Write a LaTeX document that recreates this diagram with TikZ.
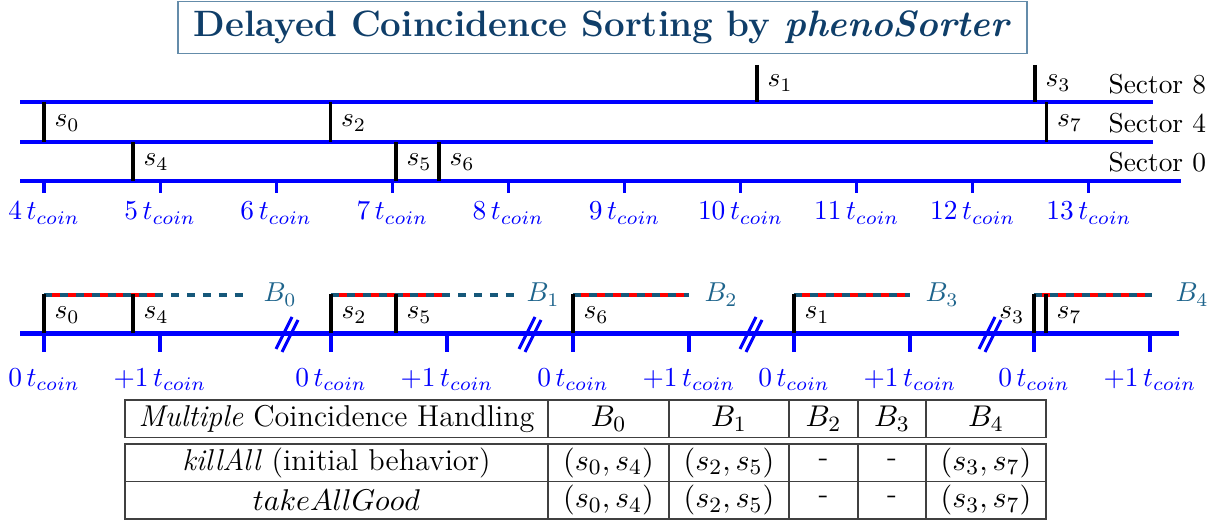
\documentclass[tikz,border=0pt]{standalone}
\begin{document}
\begin{tikzpicture}[x=0.365pt,y=-0.365pt,font=\fontsize{10}{12}\selectfont]
\definecolor{bteal}{RGB}{22,88,122}
\definecolor{blabteal}{RGB}{30,100,140}
\definecolor{titleblue}{RGB}{15,62,105}
\definecolor{titleframe}{RGB}{100,140,170}
\tikzset{
  sectorline/.style={blue,line width=1.1pt},
  axisline/.style={blue,line width=1.8pt},
  tickmark/.style={blue,line width=1.1pt},
  sigline/.style={black,line width=1.1pt},
  ticklab/.style={blue,anchor=base,inner sep=0pt},
  siglab/.style={anchor=base west,inner sep=0pt},
  seclab/.style={anchor=base west,inner sep=0pt},
  winred/.style={red,line width=1.6pt},
  winteal/.style={bteal,line width=1.6pt,dash pattern=on 2.9pt off 2.9pt},
  blab/.style={blabteal,anchor=base west,inner sep=0pt},
  brkline/.style={blue,line width=1.1pt},
  tabline/.style={black!75,line width=0.55pt},
  cell/.style={font=\fontsize{11}{13}\selectfont,inner sep=0pt},
}
\useasboundingbox (0,0) rectangle (1221,522);

% title
\node[draw=titleframe,line width=0.6pt,text=titleblue,minimum width=849*0.365pt,minimum height=52*0.365pt,inner sep=0pt,font=\fontsize{13.4}{16}\selectfont\bfseries] (title) at (602.5,27.5) {Delayed Coincidence Sorting by \textit{phenoSorter}};

% ---------- top timeline ----------
\draw[sectorline] (20,102) -- (1153,102);
\draw[sectorline] (20,142) -- (1153,142);
\draw[axisline] (20,181) -- (1181,181);
\foreach \k in {4,...,13}{
  \pgfmathsetmacro\xx{44+116.1*(\k-4)}
  \draw[tickmark] (\xx,181) -- (\xx,193);
  \node[ticklab] (tt\k) at (\xx,220) {$\k\,t_{coin}$};
}
\node[seclab] (sec8) at (1108,94) {Sector 8};
\node[seclab] (sec4) at (1108,133) {Sector 4};
\node[seclab] (sec0) at (1108,172) {Sector 0};

% signals: sector 8
\foreach \n/\xx in {1/757,3/1035}{
  \draw[sigline] (\xx,65) -- (\xx,102);
  \node[siglab] (ts\n) at (\xx+10,87) {$s_{\n}$};
}
% sector 4
\foreach \n/\xx in {0/44,2/330.5,7/1046.5}{
  \draw[sigline] (\xx,102) -- (\xx,142);
  \node[siglab] (ts\n) at (\xx+10,127) {$s_{\n}$};
}
% sector 0
\foreach \n/\xx in {4/133,5/396,6/439}{
  \draw[sigline] (\xx,142) -- (\xx,181);
  \node[siglab] (ts\n) at (\xx+10,166) {$s_{\n}$};
}

% ---------- bottom timeline ----------
\draw[axisline] (20,333.5) -- (1179,333.5);
\foreach \i/\xx in {a/44,b/331,c/573,d/794,e/1034}{
  \draw[tickmark] (\xx,333.5) -- (\xx,352);
  \draw[tickmark] (\xx+116,333.5) -- (\xx+116,352);
  \node[ticklab] (bz\i) at (\xx,386) {$0\,t_{coin}$};
  \node[ticklab] (bo\i) at (\xx+116,386) {$+1\,t_{coin}$};
}
% breaks
\foreach \c in {287,530,751,990}{
  \draw[brkline] (\c-11,349) -- (\c+5,317);
  \draw[brkline] (\c-5,352) -- (\c+11,320);
}
% coincidence windows
\draw[winred] (44,295) -- (160,295);
\draw[winteal] (44,295) -- (245,295);
\node[blab] (B0) at (263,302) {$B_0$};
\draw[winred] (331,295) -- (447,295);
\draw[winteal] (331,295) -- (514,295);
\node[blab] (B1) at (526,302) {$B_1$};
\draw[winred] (573,295) -- (689,295);
\draw[winteal] (573,295) -- (689,295);
\node[blab] (B2) at (704,302) {$B_2$};
\draw[winred] (794,295) -- (910,295);
\draw[winteal] (794,295) -- (910,295);
\node[blab] (B3) at (925,302) {$B_3$};
\draw[winred] (1034,295) -- (1152,295);
\draw[winteal] (1034,295) -- (1152,295);
\node[blab] (B4) at (1175,302) {$B_4$};
% signals bottom
\foreach \n/\xx in {0/44,4/133,2/331,5/396,6/573,1/794,3/1034,7/1046}{
  \draw[sigline] (\xx,333.5) -- (\xx,294.3);
}
\foreach \n/\xx in {0/44,4/133,2/331,5/396,6/573,1/794,7/1046}{
  \node[siglab] (bs\n) at (\xx+10,319) {$s_{\n}$};
}
\node[anchor=base east,inner sep=0pt] (bs3) at (1025,319) {$s_3$};

% ---------- table ----------
\draw[tabline] (125,400) rectangle (1046,437.5);
\foreach \xx in {548,669,789,858,926}{\draw[tabline] (\xx,400) -- (\xx,437.5);}
\draw[tabline] (125,444) rectangle (1046,519);
\draw[tabline] (125,481.5) -- (1046,481.5);
\foreach \xx in {548,669,789,858,926}{\draw[tabline] (\xx,444) -- (\xx,519);}

\node[cell] (h0) at (336.5,418.75) {\textit{Multiple} Coincidence Handling};
\node[cell] (h1) at (608.5,418.75) {$B_0$};
\node[cell] (h2) at (729,418.75) {$B_1$};
\node[cell] (h3) at (823.5,418.75) {$B_2$};
\node[cell] (h4) at (892,418.75) {$B_3$};
\node[cell] (h5) at (986,418.75) {$B_4$};

\node[cell] (r0) at (336.5,462.75) {\textit{killAll} (initial behavior)};
\node[cell] (r1) at (608.5,462.75) {$(s_0,s_4)$};
\node[cell] (r2) at (729,462.75) {$(s_2,s_5)$};
\node[cell] (r3) at (823.5,462.75) {-};
\node[cell] (r4) at (892,462.75) {-};
\node[cell] (r5) at (986,462.75) {$(s_3,s_7)$};

\node[cell] (q0) at (336.5,500.25) {$takeAllGood$};
\node[cell] (q1) at (608.5,500.25) {$(s_0,s_4)$};
\node[cell] (q2) at (729,500.25) {$(s_2,s_5)$};
\node[cell] (q3) at (823.5,500.25) {-};
\node[cell] (q4) at (892,500.25) {-};
\node[cell] (q5) at (986,500.25) {$(s_3,s_7)$};
\end{tikzpicture}
\end{document}
